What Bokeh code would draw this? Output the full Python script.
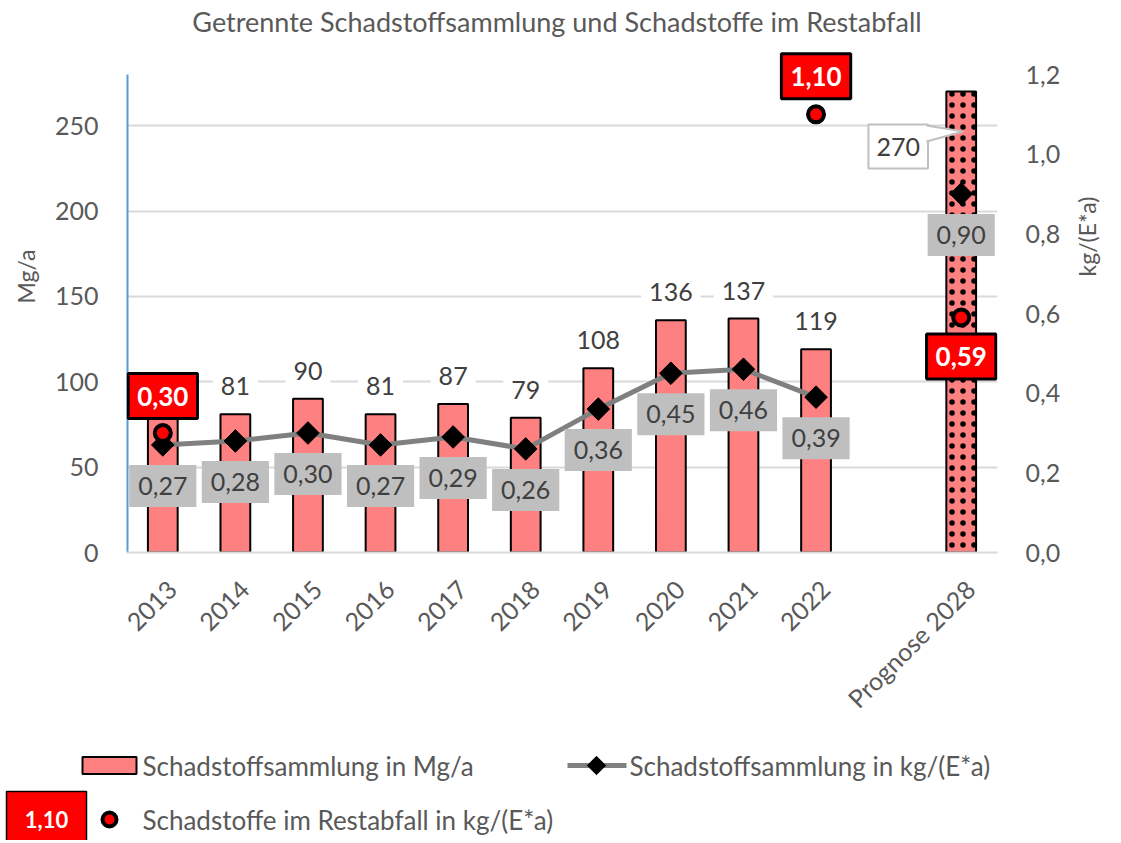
import math
from bokeh.plotting import figure
from bokeh.models import Range1d, LinearAxis, FixedTicker, CustomJSTickFormatter, Label
from bokeh.layouts import column
from bokeh.embed import file_html
from bokeh.resources import INLINE
from bokeh.core.properties import value

# ---------------- data ----------------
categories = ["2013", "2014", "2015", "2016", "2017", "2018", "2019", "2020", "2021", "2022", "", "Prognose 2028"]
bar_years = ["2013", "2014", "2015", "2016", "2017", "2018", "2019", "2020", "2021", "2022"]
bar_mg = [84, 81, 90, 81, 87, 79, 108, 136, 137, 119]
bar_label_years = ["2014", "2015", "2016", "2017", "2018", "2019", "2020", "2021", "2022"]
bar_label_mg = [81, 90, 81, 87, 79, 108, 136, 137, 119]
forecast_cat = "Prognose 2028"
forecast_mg = 270
line_kg = [0.27, 0.28, 0.30, 0.27, 0.29, 0.26, 0.36, 0.45, 0.46, 0.39]
forecast_kg = 0.90
rest_cats = ["2013", "2022", "Prognose 2028"]
rest_kg = [0.30, 1.10, 0.59]
left_ticks = [0, 50, 100, 150, 200, 250]
left_max = 280
right_ticks = [0.0, 0.2, 0.4, 0.6, 0.8, 1.0, 1.2]
right_max = 1.2

TITLE = "Getrennte Schadstoffsammlung und Schadstoffe im Restabfall"
LEG_BAR = "Schadstoffsammlung in Mg/a"
LEG_LINE = "Schadstoffsammlung in kg/(E*a)"
LEG_REST = "Schadstoffe im Restabfall in kg/(E*a)"

FONT = "Lato"
TXT = "#595959"
LBL = "#404040"
BAR_FILL = "#FF8080"
GRID = "#D9D9D9"


def xpos(c):
    return categories.index(c) + 0.5


def de(v):
    return f"{v:.2f}".replace(".", ",")


W, H = 1118, 738
BL = 126
FW = 878
AXIS_H = 478          # plotting height of the 0..280 axis
TOP_PAD = 74          # room above the axis for title / labels (inside frame)
FH = AXIS_H + TOP_PAD
BR, BB = W - BL - FW, H - FH
PXX = FW / len(categories)
PXY = AXIS_H / left_max
ymax = left_max * FH / AXIS_H
ymax_r = right_max * FH / AXIS_H

p = figure(width=W, height=H, x_range=Range1d(0, len(categories)), y_range=Range1d(0, ymax),
           output_backend="svg", toolbar_location=None,
           min_border_left=BL, min_border_right=BR, min_border_top=0, min_border_bottom=BB)
p.frame_align = False
p.extra_y_ranges = {"kg": Range1d(0, ymax_r)}
p.outline_line_color = None
p.background_fill_color = "white"
p.border_fill_color = "white"

p.xgrid.visible = False
p.ygrid.ticker = FixedTicker(ticks=left_ticks)
p.ygrid.grid_line_color = GRID
p.ygrid.grid_line_width = 2

# title
p.add_layout(Label(x=len(categories) / 2, y=left_max, x_offset=-5, y_offset=53, text=TITLE,
                   text_align="center", text_baseline="middle", text_font=FONT,
                   text_font_size="27px", text_color=TXT))

# left axis
ya = p.yaxis[0]
ya.ticker = FixedTicker(ticks=left_ticks)
ya.major_label_text_font = FONT
ya.major_label_text_font_size = "25px"
ya.major_label_text_color = TXT
ya.major_tick_line_color = None
ya.minor_tick_line_color = None
ya.major_tick_out = 0
ya.major_tick_in = 0
ya.major_label_standoff = 28
ya.axis_line_color = None
ya.axis_label = "Mg/a"
ya.axis_label_text_font = FONT
ya.axis_label_text_font_size = "23px"
ya.axis_label_text_font_style = "normal"
ya.axis_label_text_color = TXT
ya.axis_label_standoff = 12
p.segment(x0=[0], y0=[0], x1=[0], y1=[left_max], line_color="#5B9BD5", line_width=4)

# right axis
ra = LinearAxis(y_range_name="kg", ticker=FixedTicker(ticks=right_ticks),
                formatter=CustomJSTickFormatter(code="return tick.toFixed(1).replace('.', ',');"))
ra.major_label_text_font = FONT
ra.major_label_text_font_size = "25px"
ra.major_label_text_color = TXT
ra.major_tick_line_color = None
ra.minor_tick_line_color = None
ra.major_tick_out = 0
ra.major_tick_in = 0
ra.major_label_standoff = 28
ra.axis_line_color = None
ra.axis_label = "kg/(E*a)"
ra.axis_label_orientation = math.pi / 2
ra.axis_label_text_font = FONT
ra.axis_label_text_font_size = "23px"
ra.axis_label_text_font_style = "normal"
ra.axis_label_text_color = TXT
ra.axis_label_standoff = 24
p.add_layout(ra, "right")

# bottom axis (tick positions nudged right so rotated labels end where the reference's do)
xa = p.xaxis[0]
nudge = 9 / PXX
xa.ticker = FixedTicker(ticks=[i + 0.5 + nudge for i, c in enumerate(categories) if c])
xa.formatter = CustomJSTickFormatter(args=dict(cats=categories),
                                     code="return cats[Math.round(tick - 0.5)] || '';")
xa.major_label_orientation = math.pi / 4
xa.major_label_text_font = FONT
xa.major_label_text_font_size = "25px"
xa.major_label_text_color = TXT
xa.major_tick_line_color = None
xa.minor_tick_line_color = None
xa.major_tick_out = 0
xa.major_tick_in = 0
xa.major_label_standoff = 32
xa.axis_line_color = GRID
xa.axis_line_width = 2

# bars
p.vbar(x=[xpos(c) for c in bar_years], top=bar_mg, bottom=0, width=0.41,
       fill_color=BAR_FILL, line_color="black", line_width=2)
p.vbar(x=[xpos(forecast_cat)], top=[forecast_mg], bottom=0, width=0.41,
       fill_color=BAR_FILL, line_color="black", line_width=2,
       hatch_pattern="dot", hatch_color="black", hatch_scale=11, hatch_weight=1.5)

# bar labels
p.text(x=[xpos(c) for c in bar_label_years], y=bar_label_mg, text=[str(v) for v in bar_label_mg],
       y_offset=-28, text_align="center", text_baseline="middle",
       text_font=value(FONT), text_font_size="25px", text_color=LBL,
       background_fill_color="white", padding=8)

# forecast callout label "270"
fx, fy = xpos(forecast_cat), forecast_mg
p.text(x=[fx], y=[fy], text=[str(forecast_mg)], x_offset=-63, y_offset=55,
       text_align="center", text_baseline="middle",
       text_font=value(FONT), text_font_size="25px", text_color=LBL,
       background_fill_color="white", border_line_color="#BFBFBF", border_line_width=2,
       padding=dict(x=8, y=13))
tail_x = [fx - 35 / PXX, fx + 2 / PXX, fx - 35 / PXX]
tail_y = [fy - 34 / PXY, fy - 40 / PXY, fy - 50 / PXY]
p.patch(x=tail_x, y=tail_y, fill_color="white", line_color=None)
p.line(x=tail_x[:2], y=tail_y[:2], line_color="#BFBFBF", line_width=2)
p.line(x=tail_x[1:], y=tail_y[1:], line_color="#BFBFBF", line_width=2)

# kg line
lx = [xpos(c) for c in bar_years]
p.line(x=lx, y=line_kg, y_range_name="kg", line_color="#808080", line_width=5)
p.scatter(x=lx + [xpos(forecast_cat)], y=line_kg + [forecast_kg], y_range_name="kg",
          marker="square", angle=math.pi / 4, size=16, fill_color="black", line_color="black")
p.text(x=lx + [xpos(forecast_cat)], y=line_kg + [forecast_kg],
       text=[de(v) for v in line_kg + [forecast_kg]], y_range_name="kg",
       y_offset=41, text_align="center", text_baseline="middle",
       text_font=value(FONT), text_font_size="25px", text_color=LBL,
       background_fill_color="#BFBFBF", padding=dict(x=9, y=12))

# Restabfall points
rx = [xpos(c) for c in rest_cats]
p.scatter(x=rx, y=rest_kg, y_range_name="kg", marker="circle", size=16,
          fill_color="#FF0000", line_color="black", line_width=4)
p.text(x=rx, y=rest_kg, y_range_name="kg", y_offset=[-37, -38, 39], text=[de(v) for v in rest_kg],
       text_align="center", text_baseline="middle",
       text_font=value(FONT), text_font_size="26px", text_font_style="bold",
       text_color="white", background_fill_color="#FF0000",
       border_line_color="black", border_line_width=3, padding=dict(x=9, y=13))

# ---------------- legend figure ----------------
LH = 102
X0, Y0 = 1, 1 + H
L = figure(width=W, height=LH, x_range=Range1d(X0, X0 + W), y_range=Range1d(Y0 + LH, Y0),
           output_backend="svg", toolbar_location=None, min_border=0,
           x_axis_location=None, y_axis_location=None)
L.frame_align = False
L.outline_line_color = None
L.grid.visible = False

r1, r2 = 766, 820
L.rect(x=[110], y=[r1], width=54, height=17, fill_color=BAR_FILL, line_color="black", line_width=2)
L.text(x=[143], y=[r1], text=[LEG_BAR], text_align="left", text_baseline="middle",
       text_font=value(FONT), text_font_size="26px", text_color=TXT)
L.line(x=[568, 627], y=[r1, r1], line_color="#808080", line_width=5)
L.scatter(x=[597], y=[r1], marker="square", angle=math.pi / 4, size=13,
          fill_color="black", line_color="black")
L.text(x=[630], y=[r1], text=[LEG_LINE], text_align="left", text_baseline="middle",
       text_font=value(FONT), text_font_size="26px", text_color=TXT)
L.rect(x=[47], y=[818], width=80, height=52, fill_color="#FF0000", line_color="black", line_width=1.5)
L.text(x=[47], y=[r2], text=[de(rest_kg[1])], text_align="center", text_baseline="middle",
       text_font=value(FONT), text_font_size="22px", text_font_style="bold", text_color="white")
L.scatter(x=[110], y=[r2], marker="circle", size=14, fill_color="#FF0000", line_color="black", line_width=4)
L.text(x=[143], y=[r2], text=[LEG_REST], text_align="left", text_baseline="middle",
       text_font=value(FONT), text_font_size="26px", text_color=TXT)

layout = column(p, L, spacing=0)
open("out.html", "w").write(file_html(layout, INLINE))
